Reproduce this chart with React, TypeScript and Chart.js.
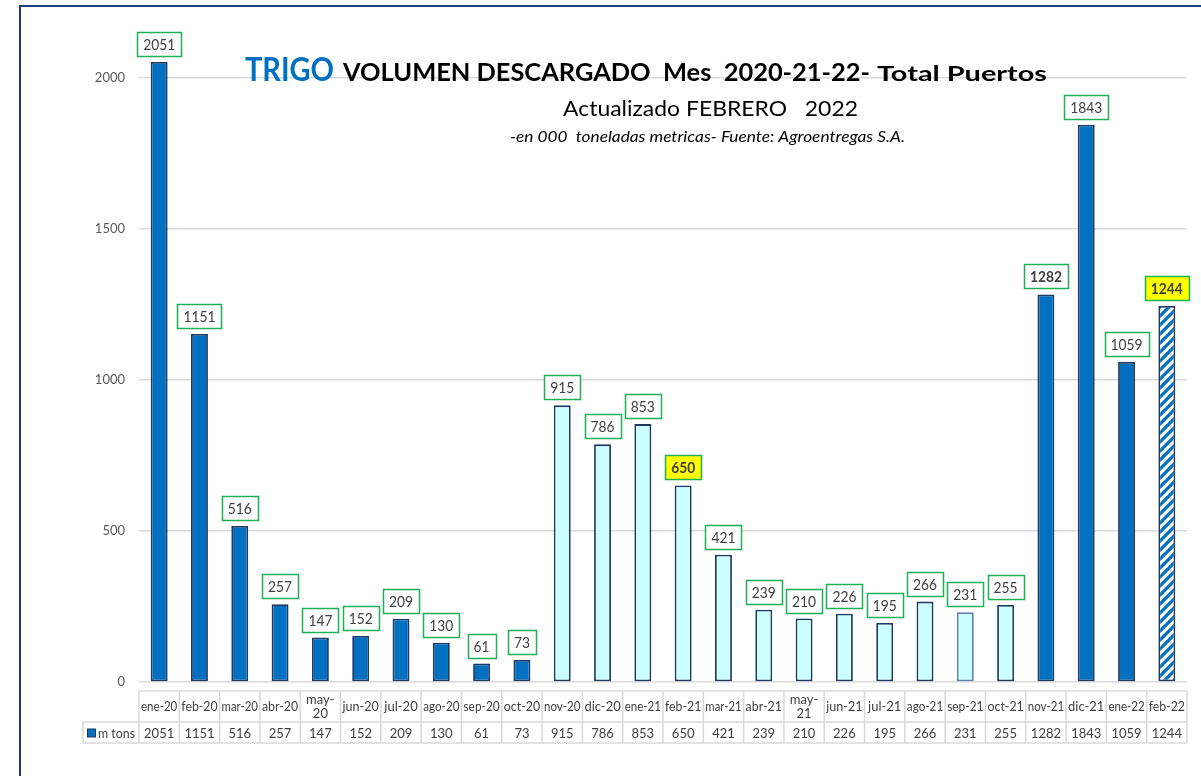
import { useEffect, useRef } from "react";
import { Chart, registerables } from "chart.js";

Chart.register(...registerables);

const CATEGORIES = [
  "ene-20", "feb-20", "mar-20", "abr-20", "may-20", "jun-20", "jul-20", "ago-20", "sep-20", "oct-20",
  "nov-20", "dic-20", "ene-21", "feb-21", "mar-21", "abr-21", "may-21", "jun-21", "jul-21", "ago-21",
  "sep-21", "oct-21", "nov-21", "dic-21", "ene-22", "feb-22",
];
const VALUES = [
  2051, 1151, 516, 257, 147, 152, 209, 130, 61, 73,
  915, 786, 853, 650, 421, 239, 210, 226, 195, 266,
  231, 255, 1282, 1843, 1059, 1244,
];
const SERIES_NAME = "m tons";
const Y_TICKS = [0, 500, 1000, 1500, 2000];
const LIGHT_MONTHS = [
  "nov-20", "dic-20", "ene-21", "feb-21", "mar-21", "abr-21", "may-21", "jun-21", "jul-21", "ago-21",
  "sep-21", "oct-21",
];
const SOFT_BORDER_MONTHS = ["sep-21"];
const HATCHED_MONTHS = ["feb-22"];
const BOLD_LABEL_MONTHS = ["feb-21", "nov-21", "feb-22"];
const YELLOW_LABEL_MONTHS = ["feb-21", "feb-22"];
const WRAPPED_MONTHS = ["may-20", "may-21"];

const TITLE_MAIN = "TRIGO";
const TITLE_PART2 = "VOLUMEN DESCARGADO  Mes  2020-21-22-";
const TITLE_PART3 = "Total Puertos";
const SUBTITLE = "Actualizado FEBRERO   2022";
const NOTE = "-en 000  toneladas metricas- Fuente: Agroentregas S.A.";

const FONT = "Lato, 'Noto Sans', sans-serif";
const DARK_BLUE = "#0070C0";
const NAVY = "#1F3864";
const LIGHT_FILL = "#CCFFFF";
const GREEN = "#1DB155";
const GRID = "#D9D9D9";

function makeHatch(): CanvasPattern | string {
  const c = document.createElement("canvas");
  c.width = 9;
  c.height = 9;
  const g = c.getContext("2d");
  if (!g) return DARK_BLUE;
  g.fillStyle = "#FFFFFF";
  g.fillRect(0, 0, 9, 9);
  g.strokeStyle = DARK_BLUE;
  g.lineWidth = 3.2;
  g.beginPath();
  g.moveTo(-2, 11);
  g.lineTo(11, -2);
  g.moveTo(-2, 2);
  g.lineTo(2, -2);
  g.moveTo(7, 11);
  g.lineTo(11, 7);
  g.stroke();
  return g.createPattern(c, "repeat") || DARK_BLUE;
}

// draws text at a given font size, squeezed horizontally to span targetW
function drawSpan(
  ctx: CanvasRenderingContext2D,
  text: string,
  x: number,
  baseline: number,
  targetW: number,
  size: number,
  weight: string,
  style: string,
  color: string
) {
  ctx.save();
  ctx.font = `${style} ${weight} ${size}px ${FONT}`;
  const w = ctx.measureText(text).width;
  const sx = targetW / w;
  ctx.translate(x, baseline);
  ctx.scale(sx, 1);
  ctx.fillStyle = color;
  ctx.textAlign = "left";
  ctx.textBaseline = "alphabetic";
  ctx.fillText(text, 0, 0);
  ctx.restore();
}

const framePlugin = {
  id: "frame",
  beforeDraw(chart: any) {
    const ctx = chart.ctx as CanvasRenderingContext2D;
    ctx.save();
    ctx.fillStyle = "#FFFFFF";
    ctx.fillRect(0, 0, chart.width, chart.height);
    ctx.strokeStyle = "#1F3B7E";
    ctx.lineWidth = 2;
    ctx.beginPath();
    ctx.moveTo(20, chart.height + 2);
    ctx.lineTo(20, 6);
    ctx.lineTo(chart.width + 2, 6);
    ctx.stroke();
    ctx.restore();
  },
};

const titlePlugin = {
  id: "titles",
  afterDraw(chart: any) {
    const ctx = chart.ctx as CanvasRenderingContext2D;
    drawSpan(ctx, TITLE_MAIN, 245, 81, 89, 32, "bold", "normal", DARK_BLUE);
    drawSpan(ctx, TITLE_PART2, 343, 81, 527, 24, "bold", "normal", "#000000");
    drawSpan(ctx, TITLE_PART3, 877, 81, 170, 20, "bold", "normal", "#000000");
    drawSpan(ctx, SUBTITLE, 563, 116, 295, 22, "normal", "normal", "#000000");
    drawSpan(ctx, NOTE, 510, 142, 395, 15, "normal", "italic", "#000000");
  },
};

const labelPlugin = {
  id: "boxLabels",
  afterDatasetsDraw(chart: any) {
    const ctx = chart.ctx as CanvasRenderingContext2D;
    const meta = chart.getDatasetMeta(0);
    ctx.save();
    meta.data.forEach((el: any, i: number) => {
      const cat = CATEGORIES[i];
      const text = String(VALUES[i]);
      const bold = BOLD_LABEL_MONTHS.includes(cat);
      const yellow = YELLOW_LABEL_MONTHS.includes(cat);
      ctx.font = `${bold ? "bold " : ""}15px ${FONT}`;
      const tw = ctx.measureText(text).width * 0.92;
      const w = Math.round(tw + 12);
      const h = 24;
      const bx = Math.round(el.x - w / 2) + 0.5;
      const by = Math.round(el.y - 6 - h) + 0.5;
      ctx.fillStyle = yellow ? "#FFFF00" : "#FFFFFF";
      ctx.fillRect(bx, by, w, h);
      ctx.strokeStyle = GREEN;
      ctx.lineWidth = 1.5;
      ctx.strokeRect(bx, by, w, h);
      ctx.fillStyle = "#404040";
      ctx.textAlign = "center";
      ctx.textBaseline = "middle";
      ctx.fillText(text, el.x, by + h / 2 + 1, tw);
    });
    ctx.restore();
  },
};

const tablePlugin = {
  id: "dataTable",
  afterDraw(chart: any) {
    const ctx = chart.ctx as CanvasRenderingContext2D;
    const xs = chart.scales.x;
    const area = chart.chartArea;
    const n = CATEGORIES.length;
    const colW = (area.right - area.left) / n;
    const top = area.bottom + 9;
    const mid = area.bottom + 40;
    const bot = area.bottom + 61;
    const legendLeft = 83;
    ctx.save();
    ctx.strokeStyle = GRID;
    ctx.lineWidth = 1.5;
    ctx.beginPath();
    ctx.moveTo(area.left, top);
    ctx.lineTo(area.right, top);
    ctx.moveTo(legendLeft, mid);
    ctx.lineTo(area.right, mid);
    ctx.moveTo(legendLeft, bot);
    ctx.lineTo(area.right, bot);
    for (let k = 0; k <= n; k++) {
      const x = area.left + k * colW;
      ctx.moveTo(x, top);
      ctx.lineTo(x, bot);
    }
    ctx.moveTo(legendLeft, mid);
    ctx.lineTo(legendLeft, bot);
    ctx.stroke();

    ctx.fillStyle = "#404040";
    ctx.font = `13px ${FONT}`;
    ctx.textAlign = "center";
    ctx.textBaseline = "middle";
    const maxW = colW - 4;
    CATEGORIES.forEach((cat, i) => {
      const cx = xs.getPixelForValue(i);
      if (WRAPPED_MONTHS.includes(cat)) {
        const parts = cat.split("-");
        ctx.fillText(parts[0] + "-", cx, (top + mid) / 2 - 7, maxW);
        ctx.fillText(parts[1], cx, (top + mid) / 2 + 7, maxW);
      } else {
        ctx.fillText(cat, cx, (top + mid) / 2, maxW);
      }
      ctx.fillText(String(VALUES[i]), cx, (mid + bot) / 2 + 1, maxW);
    });

    // legend key
    ctx.fillStyle = DARK_BLUE;
    ctx.fillRect(87.5, mid + 7, 8, 8);
    ctx.strokeStyle = NAVY;
    ctx.lineWidth = 1;
    ctx.strokeRect(87.5, mid + 7, 8, 8);
    ctx.fillStyle = "#404040";
    ctx.textAlign = "left";
    ctx.fillText(SERIES_NAME, 98, (mid + bot) / 2 + 1, 37);
    ctx.restore();
  },
};

export default function App() {
  const ref = useRef<HTMLCanvasElement | null>(null);

  useEffect(() => {
    const canvas = ref.current;
    if (!canvas) return;
    const hatch = makeHatch();
    const bg = CATEGORIES.map((c) =>
      HATCHED_MONTHS.includes(c) ? hatch : LIGHT_MONTHS.includes(c) ? LIGHT_FILL : DARK_BLUE
    );
    const borders = CATEGORIES.map((c) => (SOFT_BORDER_MONTHS.includes(c) ? "#5F7FB0" : NAVY));

    const chart = new Chart(canvas, {
      type: "bar",
      data: {
        labels: CATEGORIES,
        datasets: [
          {
            label: SERIES_NAME,
            data: VALUES,
            backgroundColor: bg as any,
            borderColor: borders,
            borderWidth: 1.8,
            borderSkipped: false,
            barPercentage: 0.42,
            categoryPercentage: 1,
          },
        ],
      },
      options: {
        animation: false,
        responsive: false,
        maintainAspectRatio: false,
        layout: { padding: { top: 32, right: 14, bottom: 94, left: 0 } },
        plugins: {
          legend: { display: false },
          tooltip: { enabled: false },
          title: { display: false },
        },
        scales: {
          x: {
            display: false,
          },
          y: {
            min: 0,
            max: 2150,
            afterBuildTicks: (scale: any) => {
              scale.ticks = Y_TICKS.map((v) => ({ value: v }));
            },
            afterFit: (scale: any) => {
              scale.width = 139;
            },
            grid: { color: GRID, lineWidth: 1.5, drawTicks: false },
            border: { display: false },
            ticks: {
              padding: 14,
              color: "#595959",
              font: { family: FONT, size: 13 },
              callback: (v: any) => String(v),
            },
          },
        },
      },
      plugins: [framePlugin, labelPlugin, tablePlugin, titlePlugin],
    });
    return () => chart.destroy();
  }, []);

  return (
    <div style={{ position: "fixed", left: 0, top: 0, width: 1201, height: 776, background: "#fff" }}>
      <canvas ref={ref} width={1201} height={776} style={{ display: "block" }} />
    </div>
  );
}
